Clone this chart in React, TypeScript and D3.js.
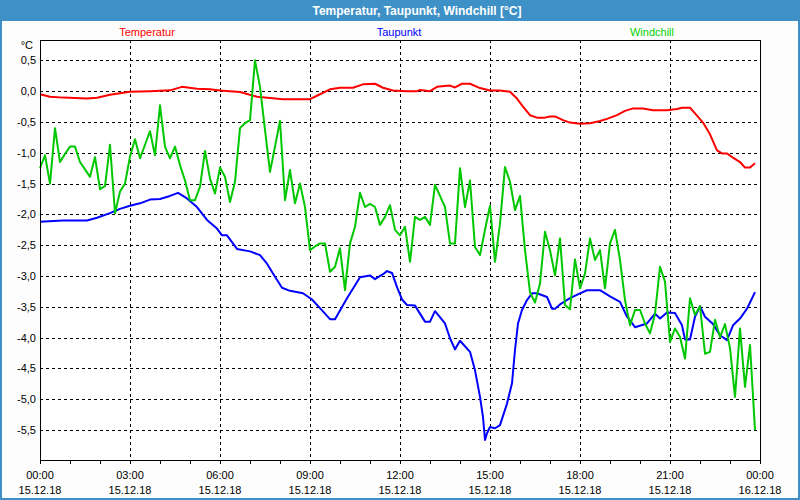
import React from "react";
import * as d3 from "d3";

// ---- data ----
const tempMinutes = [0, 20, 46, 94, 114, 140, 180, 220, 260, 284, 314, 340, 360, 400, 434, 486, 540, 560, 580, 600, 626, 646, 670, 686, 706, 734, 754, 760, 780, 794, 820, 830, 844, 860, 880, 900, 920, 940, 954, 966, 980, 994, 1010, 1020, 1030, 1046, 1060, 1080, 1100, 1120, 1134, 1154, 1170, 1186, 1206, 1226, 1254, 1274, 1284, 1300, 1310, 1326, 1340, 1354, 1364, 1374, 1386, 1400, 1410, 1420, 1430];
const tempValues = [-0.05, -0.09, -0.105, -0.12, -0.107, -0.06, -0.01, 0.0, 0.013, 0.07, 0.04, 0.03, 0.01, -0.015, -0.09, -0.13, -0.13, -0.05, 0.03, 0.055, 0.055, 0.11, 0.12, 0.055, 0.01, 0.0, 0.0, 0.02, 0.0, 0.07, 0.09, 0.06, 0.12, 0.12, 0.05, 0.01, 0.01, -0.01, -0.12, -0.25, -0.39, -0.43, -0.43, -0.41, -0.41, -0.47, -0.51, -0.53, -0.52, -0.485, -0.45, -0.39, -0.32, -0.28, -0.28, -0.31, -0.31, -0.29, -0.27, -0.27, -0.36, -0.51, -0.7, -0.96, -1.01, -1.01, -1.08, -1.15, -1.24, -1.24, -1.17];

const dewMinutes = [0, 46, 94, 114, 140, 160, 180, 200, 220, 240, 260, 276, 294, 314, 334, 354, 364, 374, 394, 420, 440, 454, 470, 484, 500, 526, 544, 560, 580, 590, 614, 640, 660, 670, 686, 694, 704, 714, 724, 734, 750, 770, 780, 790, 810, 820, 830, 840, 860, 870, 880, 886, 890, 894, 900, 910, 920, 934, 944, 950, 956, 964, 974, 984, 994, 1014, 1024, 1030, 1040, 1060, 1080, 1094, 1120, 1140, 1160, 1174, 1190, 1214, 1230, 1240, 1254, 1270, 1284, 1290, 1300, 1310, 1320, 1330, 1346, 1360, 1374, 1386, 1400, 1414, 1430];
const dewValues = [-2.12, -2.1, -2.1, -2.055, -1.98, -1.91, -1.86, -1.82, -1.76, -1.75, -1.7, -1.65, -1.74, -1.88, -2.09, -2.23, -2.34, -2.34, -2.56, -2.6, -2.66, -2.8, -3.01, -3.19, -3.24, -3.28, -3.38, -3.52, -3.7, -3.7, -3.36, -3.02, -2.99, -3.05, -2.97, -2.92, -2.95, -3.18, -3.38, -3.47, -3.48, -3.74, -3.74, -3.57, -3.77, -4.01, -4.19, -4.05, -4.23, -4.53, -4.96, -5.29, -5.66, -5.55, -5.45, -5.47, -5.42, -5.07, -4.74, -4.2, -3.77, -3.55, -3.39, -3.28, -3.28, -3.34, -3.53, -3.53, -3.46, -3.36, -3.28, -3.23, -3.23, -3.33, -3.42, -3.66, -3.83, -3.77, -3.61, -3.69, -3.59, -3.6, -3.8, -4.03, -4.03, -3.66, -3.49, -3.66, -3.78, -3.96, -4.04, -3.8, -3.69, -3.53, -3.26];

// windchill, one value every 10 minutes from 00:00
const windValues = [
  -1.25, -1.04, -1.5, -0.6, -1.15, -1.02, -0.9, -0.9, -1.15, -1.27,
  -1.39, -1.07, -1.59, -1.54, -0.87, -1.98, -1.63, -1.5, -1.06, -0.78,
  -1.09, -0.87, -0.65, -1.04, -0.23, -0.9, -1.09, -0.9, -1.2, -1.45,
  -1.77, -1.77, -1.55, -0.97, -1.42, -1.66, -1.24, -1.39, -1.8, -1.47,
  -0.6, -0.52, -0.47, 0.5, 0.07, -0.63, -1.31, -0.9, -0.48, -1.77,
  -1.28, -1.82, -1.5, -1.88, -2.58, -2.52, -2.47, -2.47, -2.93, -2.85,
  -2.55, -3.23, -2.47, -2.2, -1.65, -1.88, -1.83, -1.88, -2.17, -2.04,
  -1.85, -2.25, -2.34, -2.2, -2.77, -2.04, -2.09, -2.04, -2.17, -1.52,
  -1.7, -1.88, -2.47, -2.47, -1.25, -1.88, -1.45, -2.53, -2.66, -2.25,
  -1.86, -2.77, -2.15, -1.23, -1.47, -1.93, -1.7, -2.58, -3.26, -3.43,
  -3.12, -2.28, -2.58, -2.99, -2.39, -3.47, -3.54, -2.73, -3.2, -2.96,
  -2.39, -2.74, -2.58, -3.2, -2.47, -2.25, -2.74, -3.39, -3.8, -3.55,
  -3.55, -3.77, -3.93, -3.61, -2.85, -3.09, -4.07, -3.85, -3.99, -4.34,
  -3.36, -3.63, -3.49, -4.26, -4.23, -3.71, -3.99, -3.78, -4.17, -4.96,
  -3.85, -4.8, -4.12, -5.5
];

const yTicks = [0.5, 0, -0.5, -1, -1.5, -2, -2.5, -3, -3.5, -4, -4.5, -5, -5.5];
const xTickHours = [0, 3, 6, 9, 12, 15, 18, 21, 24];
const xTickTimes = ["00:00", "03:00", "06:00", "09:00", "12:00", "15:00", "18:00", "21:00", "00:00"];
const xTickDates = ["15.12.18", "15.12.18", "15.12.18", "15.12.18", "15.12.18", "15.12.18", "15.12.18", "15.12.18", "16.12.18"];
const seriesNames = ["Temperatur", "Taupunkt", "Windchill"];
const title = "Temperatur, Taupunkt, Windchill [°C]";

const W = 800, H = 500;
const L = 40, R = 760, T = 40, B = 460;
const FONT = "Liberation Sans, Arial, sans-serif";

export default function App() {
  const x = d3.scaleLinear().domain([0, 24 * 60]).range([L, R]);
  const y = d3.scaleLinear().domain([-5.985, 0.83]).range([B, T]);

  const line = d3.line<[number, number]>().x(d => x(d[0])).y(d => y(d[1]));
  const tempPts = tempMinutes.map((m, i) => [m, tempValues[i]] as [number, number]);
  const dewPts = dewMinutes.map((m, i) => [m, dewValues[i]] as [number, number]);
  const windPts = windValues.map((v, i) => [i * 10, v] as [number, number]);

  const hourTicks = d3.range(0, 25);
  const fmt = (v: number) => d3.format(".1f")(v).replace("−", "-").replace(".", ",");

  const legendX = [147, 399, 652];
  const legendColors = ["#ff0000", "#0000ff", "#00d000"];

  return (
    <svg width={W} height={H} style={{ position: "absolute", left: 0, top: 0 }} fontFamily={FONT}>
      <rect x={0} y={0} width={W} height={H} fill="#3d91c6" />
      <rect x={2} y={21} width={W - 4} height={H - 23} fill="#fdfdfd" />
      <text x={417} y={15} fill="#ffffff" fontWeight="bold" fontSize={12} textAnchor="middle" textLength={209} lengthAdjust="spacingAndGlyphs">{title}</text>

      {seriesNames.map((n, i) => (
        <text key={n} x={legendX[i]} y={36} fill={legendColors[i]} fontSize={11} textAnchor="middle">{n}</text>
      ))}

      <rect x={L} y={T} width={R - L} height={B - T} fill="#ffffff" />

      {/* horizontal grid */}
      {yTicks.map(t => (
        <line key={"h" + t} x1={L} x2={R} y1={Math.round(y(t)) + 0.5} y2={Math.round(y(t)) + 0.5} stroke="#000" strokeDasharray="3,3" strokeWidth={1} />
      ))}
      {/* vertical grid */}
      {xTickHours.slice(1, -1).map(h => (
        <line key={"v" + h} x1={Math.round(x(h * 60)) + 0.5} x2={Math.round(x(h * 60)) + 0.5} y1={T} y2={B} stroke="#000" strokeDasharray="3,3" strokeWidth={1} />
      ))}

      {/* data lines */}
      <path d={line(tempPts) || ""} fill="none" stroke="#ff0000" strokeWidth={2} strokeLinejoin="round" />
      <path d={line(dewPts) || ""} fill="none" stroke="#0000ff" strokeWidth={2} strokeLinejoin="round" />
      <path d={line(windPts) || ""} fill="none" stroke="#00c800" strokeWidth={2} strokeLinejoin="round" />

      {/* frame */}
      <rect x={L + 0.5} y={T + 0.5} width={R - L} height={B - T} fill="none" stroke="#000" strokeWidth={1} />

      {/* hour ticks */}
      {hourTicks.map(h => (
        <line key={"t" + h} x1={Math.round(x(h * 60)) + 0.5} x2={Math.round(x(h * 60)) + 0.5} y1={B} y2={B + 4} stroke="#000" strokeWidth={1} />
      ))}

      {/* y labels */}
      <text x={33} y={49} fontSize={11} textAnchor="end" fill="#000">°C</text>
      {yTicks.map(t => (
        <text key={"yl" + t} x={36} y={y(t) + 4} fontSize={11} textAnchor="end" fill="#000">{fmt(t)}</text>
      ))}

      {/* x labels */}
      {xTickHours.map((h, i) => (
        <g key={"xl" + i}>
          <text x={x(h * 60)} y={479} fontSize={11} textAnchor="middle" fill="#000">{xTickTimes[i]}</text>
          <text x={x(h * 60)} y={494} fontSize={11} textAnchor="middle" fill="#000">{xTickDates[i]}</text>
        </g>
      ))}
    </svg>
  );
}
